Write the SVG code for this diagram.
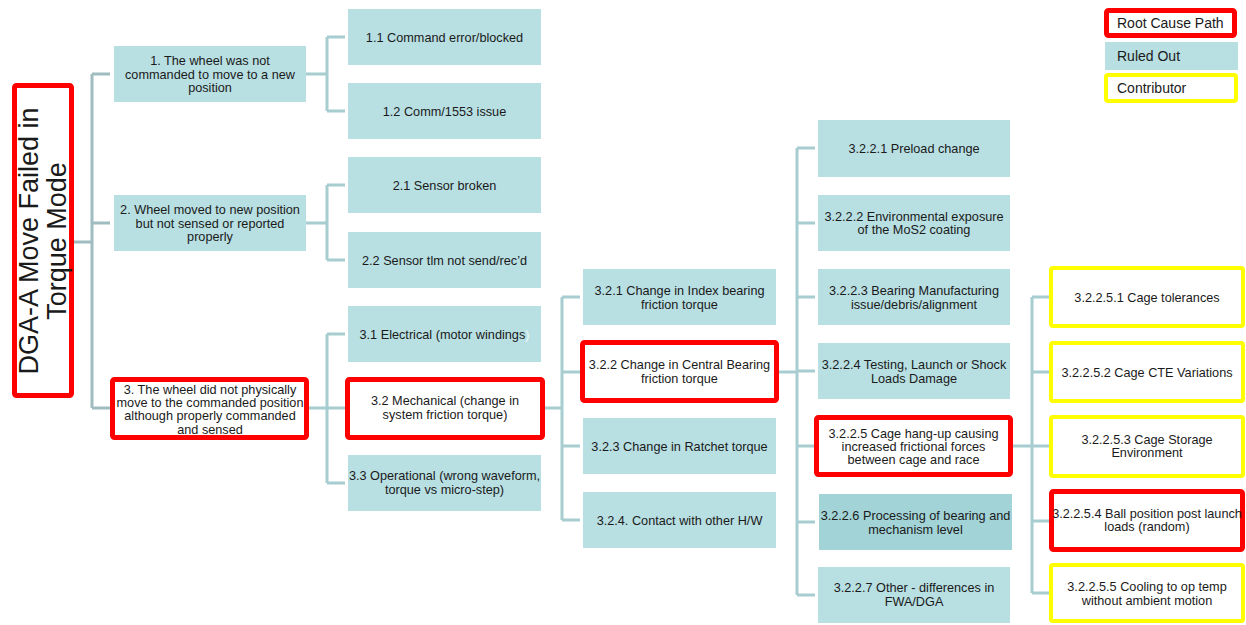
<svg xmlns="http://www.w3.org/2000/svg" width="1246" height="625" viewBox="0 0 1246 625">
<style>
.t{fill:#b8dfe2}
.d{fill:#a1d3d7}
.r{fill:#fff;stroke:#ff0000;stroke-width:5}
.y{fill:#fff;stroke:#ffff00;stroke-width:4}
.c{fill:none;stroke:#a8cdd0;stroke-width:3}
.cg{fill:none;stroke:#9fbcc0;stroke-width:3}
text{font-family:"Liberation Sans",Arial,sans-serif;font-size:12.7px;fill:#1a1a1a;text-anchor:middle}
.lg{font-size:14px;text-anchor:start}
.big{font-size:27px}
</style>
<rect width="1246" height="625" fill="#fff"/>
<g id="connectors">
<path class="cg" d="M73,242H92M92,74V408M92,74H110M92,223H110M92,408H110"/>
<path class="c" d="M306,74H327M327,37V111M327,37H345M327,111H345"/>
<path class="c" d="M306,223H327M327,185V260M327,185H345M327,260H345"/>
<path class="c" d="M309,408H345M327,334V483M327,334H345M327,483H345"/>
<path class="c" d="M545,408H562M562,297V520M562,297H580M562,372H580M562,446H580M562,520H580"/>
<path class="c" d="M779,372H797M797,148V595M797,148H815M797,223H815M797,297H815M797,371H815M797,446H815M797,522H815M797,595H815"/>
<path class="c" d="M1013,446H1032M1032,297V593M1032,297H1049M1032,372H1049M1032,446H1049M1032,521H1049M1032,593H1049"/>
</g>
<g id="root">
<rect class="r" x="14.5" y="85.5" width="57" height="310" rx="2"/>
<g transform="translate(0,241) rotate(-90)">
<text class="big" x="0" y="38">DGA-A Move Failed in</text>
<text class="big" x="0" y="66">Torque Mode</text>
</g>
</g>
<g id="n1"><rect class="t" x="114" y="46" width="192" height="56"/>
<text x="210" y="65">1. The wheel was not</text><text x="210" y="78.5">commanded to move to a new</text><text x="210" y="92">position</text></g>
<g id="n2"><rect class="t" x="114" y="195" width="192" height="56"/>
<text x="210" y="214">2. Wheel moved to new position</text><text x="210" y="227.5">but not sensed or reported</text><text x="210" y="241">properly</text></g>
<g id="n3"><rect class="r" x="112.5" y="379.5" width="194" height="58" rx="2"/>
<text x="210" y="393.5">3. The wheel did not physically</text><text x="210" y="406.5">move to the commanded position</text><text x="210" y="420">although properly commanded</text><text x="210" y="433.5">and sensed</text></g>
<g id="n11"><rect class="t" x="348" y="9" width="193" height="56"/><text x="444.5" y="41.5">1.1 Command error/blocked</text></g>
<g id="n12"><rect class="t" x="348" y="83" width="193" height="56"/><text x="444.5" y="115.5">1.2 Comm/1553 issue</text></g>
<g id="n21"><rect class="t" x="348" y="157" width="193" height="56"/><text x="444.5" y="189.5">2.1 Sensor broken</text></g>
<g id="n22"><rect class="t" x="348" y="232" width="193" height="56"/><text x="444.5" y="264.5">2.2 Sensor tlm not send/rec’d</text></g>
<g id="n31"><rect class="t" x="348" y="306" width="193" height="56"/><text x="444.5" y="338.5">3.1 Electrical (motor windings<tspan fill="#eef8f9">)</tspan></text></g>
<g id="n32"><rect class="r" x="347.5" y="379.5" width="195" height="58" rx="2"/>
<text x="445" y="405">3.2 Mechanical (change in</text><text x="445" y="418.5">system friction torque)</text></g>
<g id="n33"><rect class="t" x="348" y="455" width="193" height="56"/>
<text x="444.5" y="480">3.3 Operational (wrong waveform,</text><text x="444.5" y="493.5">torque vs micro-step)</text></g>
<g id="n321"><rect class="t" x="583" y="269" width="193" height="56"/>
<text x="679.5" y="295">3.2.1 Change in Index bearing</text><text x="679.5" y="308.5">friction torque</text></g>
<g id="n322"><rect class="r" x="582.5" y="342.5" width="194" height="58" rx="2"/>
<text x="679.5" y="369">3.2.2 Change in Central Bearing</text><text x="679.5" y="382.5">friction torque</text></g>
<g id="n323"><rect class="t" x="583" y="418" width="193" height="56"/><text x="679.5" y="450.5">3.2.3 Change in Ratchet torque</text></g>
<g id="n324"><rect class="t" x="583" y="492" width="193" height="56"/><text x="679.5" y="524.5">3.2.4. Contact with other H/W</text></g>
<g id="n3221"><rect class="t" x="818" y="120" width="192" height="57"/><text x="914" y="152.5">3.2.2.1 Preload change</text></g>
<g id="n3222"><rect class="t" x="818" y="195" width="192" height="56"/>
<text x="914" y="220.5">3.2.2.2 Environmental exposure</text><text x="914" y="234">of the MoS2 coating</text></g>
<g id="n3223"><rect class="t" x="818" y="269" width="192" height="56"/>
<text x="914" y="295">3.2.2.3 Bearing Manufacturing</text><text x="914" y="308.5">issue/debris/alignment</text></g>
<g id="n3224"><rect class="t" x="818" y="343" width="192" height="56"/>
<text x="914" y="369">3.2.2.4 Testing, Launch or Shock</text><text x="914" y="382.5">Loads Damage</text></g>
<g id="n3225"><rect class="r" x="816.5" y="417.5" width="194" height="57" rx="2"/>
<text x="913.5" y="437.5">3.2.2.5 Cage hang-up causing</text><text x="913.5" y="450.5">increased frictional forces</text><text x="913.5" y="464">between cage and race</text></g>
<g id="n3226"><rect class="d" x="819" y="494" width="193" height="56"/>
<text x="915.5" y="520">3.2.2.6 Processing of bearing and</text><text x="915.5" y="533.5">mechanism level</text></g>
<g id="n3227"><rect class="t" x="818" y="567" width="192" height="56"/>
<text x="914" y="592">3.2.2.7 Other - differences in</text><text x="914" y="605.5">FWA/DGA</text></g>
<g id="n32251"><rect class="y" x="1051" y="268" width="192" height="58" rx="2"/><text x="1147" y="301.5">3.2.2.5.1 Cage tolerances</text></g>
<g id="n32252"><rect class="y" x="1051" y="343" width="192" height="58" rx="2"/><text x="1147" y="376.5">3.2.2.5.2 Cage CTE Variations</text></g>
<g id="n32253"><rect class="y" x="1051" y="417" width="192" height="59" rx="2"/>
<text x="1147" y="443.5">3.2.2.5.3 Cage Storage</text><text x="1147" y="457">Environment</text></g>
<g id="n32254"><rect class="r" x="1051.5" y="491.5" width="191" height="58" rx="2"/>
<text x="1147" y="517.5">3.2.2.5.4 Ball position post launch</text><text x="1147" y="531">loads (random)</text></g>
<g id="n32255"><rect class="y" x="1051" y="565" width="192" height="56" rx="2"/>
<text x="1147" y="591">3.2.2.5.5 Cooling to op temp</text><text x="1147" y="604.5">without ambient motion</text></g>
<g id="legend">
<rect class="r" x="1106.5" y="10.5" width="128" height="25" rx="2"/><text class="lg" x="1117" y="28">Root Cause Path</text>
<rect class="t" x="1105" y="42" width="133" height="28"/><text class="lg" x="1117" y="61">Ruled Out</text>
<rect class="y" x="1106" y="75" width="130" height="26" rx="2"/><text class="lg" x="1117" y="93">Contributor</text>
</g>
</svg>
